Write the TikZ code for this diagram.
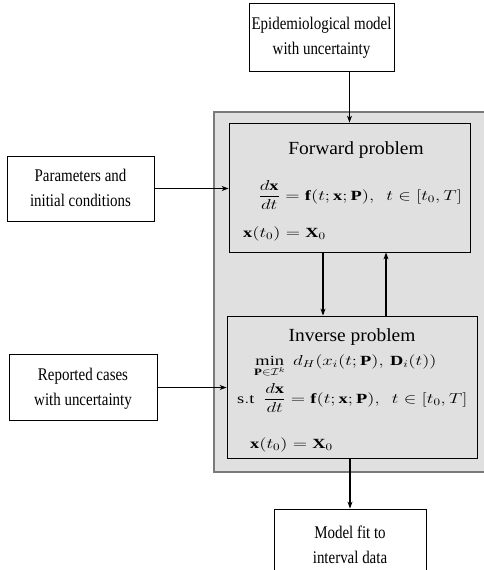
\documentclass[tikz,border=0pt]{standalone}
\usepackage{fontspec}
\setmainfont{Liberation Serif}
\usepackage{amsmath}
\usepackage{graphicx}
\usetikzlibrary{arrows.meta,positioning}
\definecolor{panelgray}{HTML}{E0E0E0}
\definecolor{framegray}{HTML}{7A7A7A}
\newcommand{\boxlabel}[1]{\scalebox{0.84}[1]{\begin{tabular}{@{}c@{}}#1\end{tabular}}}
\newcommand{\wideeq}[1]{\scalebox{1.31}[1]{$\displaystyle #1$}}

\begin{document}
\begin{tikzpicture}[x=1pt,y=-1pt,
  txtbox/.style={draw=black,fill=white,line width=0.8pt,align=center,
    font=\fontsize{17.8}{25}\selectfont,inner sep=0pt},
  probbox/.style={draw=black,fill=panelgray,line width=0.8pt,inner sep=0pt},
  eqtxt/.style={inner sep=0pt,anchor=base west,font=\fontsize{14}{16}\selectfont},
  titletxt/.style={inner sep=0pt,anchor=base,font=\fontsize{18.5}{20}\selectfont},
  arr/.style={-{Stealth[length=7pt,width=5pt]},line width=1.1pt}]
\useasboundingbox (0,0) rectangle (483,570);

% Outer panel
\node[draw=framegray,fill=panelgray,line width=1.6pt,minimum width=286pt,minimum height=360pt,inner sep=0pt] (outer) at (357,292) {};

% Input and output boxes
\node[txtbox,minimum width=145pt,minimum height=68pt] (epi) at (321.5,37) {\boxlabel{Epidemiological model\\with uncertainty}};
\node[txtbox,minimum width=147pt,minimum height=65pt] (params) at (80.5,188.5) {\boxlabel{Parameters and\\initial conditions}};
\node[txtbox,minimum width=148pt,minimum height=66pt] (reported) at (83,387.5) {\boxlabel{Reported cases\\with uncertainty}};
\node[txtbox,minimum width=152pt,minimum height=73pt] (model) at (350,545.5) {\boxlabel{Model fit to\\interval data}};

% Forward problem
\node[probbox,minimum width=241pt,minimum height=129pt] (forward) at (349.5,187.5) {};
\node[titletxt] (fwdtitle) at (356,154) {\scalebox{1.05}[1]{Forward problem}};
\node[eqtxt] (fwdeq) at (258,200) {\wideeq{\frac{d\mathbf{x}}{dt}=\mathbf{f}(t;\mathbf{x};\mathbf{P}),\ \ t\in[t_0,T]}};
\node[eqtxt] (fwdinit) at (243,237) {\wideeq{\mathbf{x}(t_0)=\mathbf{X}_0}};

% Inverse problem
\node[probbox,minimum width=250pt,minimum height=142pt] (inverse) at (352,387) {};
\node[titletxt] (invtitle) at (352,341) {\scalebox{1.05}[1]{Inverse problem}};
\node[eqtxt] (invmin) at (254,365) {\wideeq{\min_{\mathbf{P}\in\mathcal{I}^k}\ d_H(x_i(t;\mathbf{P}),\,\mathbf{D}_i(t))}};
\node[eqtxt] (invst) at (237,403) {\wideeq{\mathrm{s.t}\ \ \frac{d\mathbf{x}}{dt}=\mathbf{f}(t;\mathbf{x};\mathbf{P}),\ \ t\in[t_0,T]}};
\node[eqtxt] (invinit) at (250,448) {\wideeq{\mathbf{x}(t_0)=\mathbf{X}_0}};

% Connections
\draw[arr] (forward.north |- epi.south) -- (forward.north);
\draw[arr] (params.east) -- (params.east -| forward.west);
\draw[arr] ([xshift=-26.5pt]forward.south) -- ([xshift=-26.5pt]forward.south |- inverse.north);
\draw[arr] ([xshift=34pt]inverse.north) -- ([xshift=34pt]inverse.north |- forward.south);
\draw[arr] (reported.east) -- (reported.east -| inverse.west);
\draw[arr] (inverse.south -| model.north) -- (model.north);
\end{tikzpicture}
\end{document}
